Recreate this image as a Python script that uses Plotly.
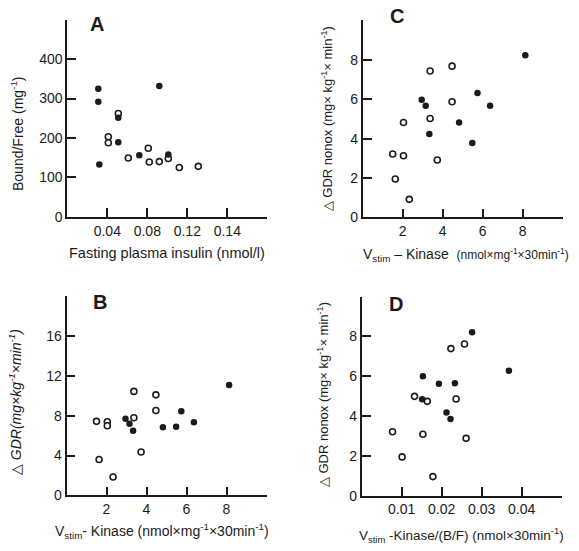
import plotly.graph_objects as go

W, H = 579, 551

# ---- Panel A: Bound/Free vs fasting plasma insulin ----
a_open_x = [0.051, 0.041, 0.041, 0.061, 0.081, 0.082, 0.092, 0.101, 0.112, 0.131]
a_open_y = [262, 203, 188, 149, 174, 139, 140, 148, 125, 128]
a_fill_x = [0.031, 0.031, 0.032, 0.051, 0.051, 0.072, 0.092, 0.101]
a_fill_y = [325, 292, 133, 251, 189, 156, 332, 158]

# ---- Vstim-Kinase (shared by panels B and C) ----
vstim_open = [1.50, 1.63, 2.04, 2.04, 2.33, 3.37, 3.37, 3.73, 4.47, 4.47]
vstim_fill = [2.95, 3.15, 3.33, 4.82, 5.48, 5.74, 6.37, 8.13]

# ---- Panel B: delta GDR ----
b_open_y = [7.44, 3.60, 7.40, 7.00, 1.85, 10.45, 7.80, 4.36, 10.10, 8.53]
b_fill_y = [7.70, 7.20, 6.50, 6.84, 6.90, 8.46, 7.34, 11.10]

# ---- Panel C: delta GDR nonox ----
c_open_y = [3.22, 1.95, 3.13, 4.82, 0.92, 7.43, 5.02, 2.92, 7.68, 5.87]
c_fill_y = [5.98, 5.67, 4.23, 4.82, 3.78, 6.32, 5.67, 8.23]

# ---- Panel D: delta GDR nonox vs Vstim-Kinase/(B/F) ----
d_open_x = [0.0077, 0.0101, 0.0132, 0.0153, 0.0164, 0.0178, 0.0223, 0.0236, 0.0257, 0.0261]
d_open_y = [3.21, 1.95, 4.99, 3.09, 4.74, 0.96, 7.39, 4.86, 7.62, 2.88]
d_fill_x = [0.0151, 0.0153, 0.0193, 0.0212, 0.0222, 0.0233, 0.0276, 0.0368]
d_fill_y = [4.84, 6.00, 5.62, 4.18, 3.85, 5.65, 8.21, 6.28]

# ---- Tick labels ----
a_xticks = [0.04, 0.08, 0.12, 0.16, 0.20]
a_xlabels = ["0.04", "0.08", "0.12", "0.14", ""]
a_yticks = [0, 100, 200, 300, 400, 500]
a_ylabels = ["0", "100", "200", "300", "400", ""]
b_yticks = [0, 4, 8, 12, 16, 20]
b_ylabels = ["0", "4", "8", "12", "16", ""]
kin_xticks = [2, 4, 6, 8, 10]
kin_xlabels = ["2", "4", "6", "8", ""]
gdr_yticks = [0, 2, 4, 6, 8, 10]
gdr_ylabels = ["0", "2", "4", "6", "8", ""]
d_xticks = [0.01, 0.02, 0.03, 0.04, 0.05]
d_xlabels = ["0.01", "0.02", "0.03", "0.04", ""]

INK = "#1b1b1b"
FONT = "Liberation Sans, Arial, Helvetica, sans-serif"


def px(x):
    return x / W


def py(y):
    return 1 - y / H


# pixel boxes of the four plot areas: (left, right, top, bottom)
boxes = {
    "1": (67.3, 267.3, 20.0, 220.0),
    "2": (66.5, 266.5, 300.7, 502.7),
    "3": (362.7, 562.7, 20.7, 220.7),
    "4": (361.7, 561.7, 301.0, 503.0),
}

fig = go.Figure()


def add_pts(ax, xs, ys, filled):
    sfx = "" if ax == "1" else ax
    fig.add_trace(go.Scatter(
        x=xs, y=ys, mode="markers", xaxis="x" + sfx, yaxis="y" + sfx,
        showlegend=False, cliponaxis=False,
        marker=dict(
            size=6.5 if filled else 6,
            color=INK if filled else "white",
            line=dict(color=INK, width=0 if filled else 1.6),
        ),
    ))


add_pts("1", a_open_x, a_open_y, False)
add_pts("1", a_fill_x, a_fill_y, True)
add_pts("2", vstim_open, b_open_y, False)
add_pts("2", vstim_fill, b_fill_y, True)
add_pts("3", vstim_open, c_open_y, False)
add_pts("3", vstim_fill, c_fill_y, True)
add_pts("4", d_open_x, d_open_y, False)
add_pts("4", d_fill_x, d_fill_y, True)


def axis_common(rng, tickvals, ticktext):
    return dict(
        range=rng, tickvals=tickvals, ticktext=ticktext,
        showgrid=False, zeroline=False, showline=True,
        linecolor=INK, linewidth=1.8, ticks="inside", ticklen=9,
        tickwidth=1.5, tickcolor=INK, mirror=False,
        tickfont=dict(family=FONT, size=14, color=INK),
        fixedrange=True,
    )


axes_spec = {
    "1": ([0, 0.2], a_xticks, a_xlabels, [0, 500], a_yticks, a_ylabels),
    "2": ([0, 10], kin_xticks, kin_xlabels, [0, 20], b_yticks, b_ylabels),
    "3": ([0, 10], kin_xticks, kin_xlabels, [0, 10], gdr_yticks, gdr_ylabels),
    "4": ([0, 0.05], d_xticks, d_xlabels, [0, 10], gdr_yticks, gdr_ylabels),
}

layout_axes = {}
for k, (xr, xt, xl, yr, yt, yl) in axes_spec.items():
    l, r, t, b = boxes[k]
    sfx = "" if k == "1" else k
    xa = axis_common(xr, xt, xl)
    xa.update(domain=[px(l), px(r)], anchor="y" + sfx)
    ya = axis_common(yr, yt, yl)
    ya.update(domain=[py(b), py(t)], anchor="x" + sfx)
    layout_axes["xaxis" + sfx] = xa
    layout_axes["yaxis" + sfx] = ya

fig.update_layout(**layout_axes)

ann = []


def label(text, x, y, size=14, angle=0, bold=False):
    if bold:
        text = "<b>" + text + "</b>"
    ann.append(dict(
        text=text, x=px(x), y=py(y), xref="paper", yref="paper",
        showarrow=False, textangle=angle, xanchor="center", yanchor="middle",
        font=dict(family=FONT, size=size, color=INK),
    ))


# panel letters
label("A", 97, 24, size=20, bold=True)
label("B", 100, 306, size=20, bold=True)
label("C", 397, 16, size=20, bold=True)
label("D", 396, 308, size=20, bold=True)

# axis titles
label("Fasting plasma insulin (nmol/l)", 167, 257, size=14.5)
label("Bound/Free (mg<sup>-1</sup>)", 17, 136, size=14, angle=-90)
label("△ <i>GDR(mg×kg<sup>-1</sup>×min<sup>-1</sup>)</i>", 15, 408, size=14, angle=-90)
label("V<sub>stim</sub>- Kinase (nmol×mg<sup>-1</sup>×30min<sup>-1</sup>)", 162, 539, size=14)
label("△ GDR nonox (mg× kg<sup>-1</sup>× min<sup>-1</sup>)", 327, 121, size=13, angle=-90)
label("V<sub>stim</sub> – Kinase  <span style='font-size:12px'>(nmol×mg<sup>-1</sup>×30min<sup>-1</sup>)</span>",
      466, 259, size=14)
label("△ GDR nonox (mg× kg<sup>-1</sup>× min<sup>-1</sup>)", 323, 401, size=13, angle=-90)
label("V<sub>stim</sub> -Kinase/(B/F) (nmol×30min<sup>-1</sup>)", 462, 543, size=13.5)

fig.update_layout(
    annotations=ann,
    width=W, height=H,
    margin=dict(l=0, r=0, t=0, b=0),
    paper_bgcolor="white", plot_bgcolor="white",
    font=dict(family=FONT, color=INK),
)

fig.write_html("out.html", config={"displayModeBar": False})
